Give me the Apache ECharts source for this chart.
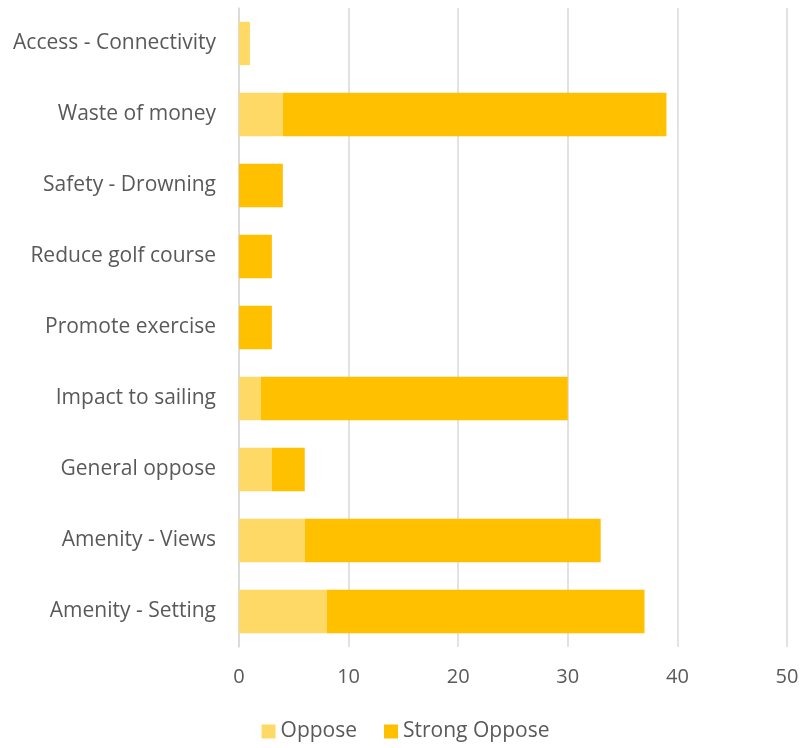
<!DOCTYPE html>
<html><head><meta charset="utf-8">
<script src="https://cdn.jsdelivr.net/npm/echarts@6/dist/echarts.min.js"></script>
<style>html,body{margin:0;padding:0;background:#fff}#c{width:811px;height:748px}</style>
</head><body><div id="c"></div>
<script>
const categories = ["Amenity - Setting","Amenity - Views","General oppose","Impact to sailing","Promote exercise","Reduce golf course","Safety - Drowning","Waste of money","Access - Connectivity"];
const oppose = [8, 6, 3, 2, 0, 0, 0, 4, 1];
const strongOppose = [29, 27, 3, 28, 3, 3, 4, 35, 0];
const xTicks = [0, 10, 20, 30, 40, 50];

const font = "'Open Sans', 'Liberation Sans', sans-serif";
const chart = echarts.init(document.getElementById('c'));
chart.setOption({
  animation: false,
  textStyle: { fontFamily: font },
  grid: { left: 239, right: 24, top: 8, bottom: 101 },
  legend: {
    bottom: 1, left: 'center', itemWidth: 14, itemHeight: 14, itemGap: 27,
    icon: 'rect',
    textStyle: { fontSize: 21, color: '#595959', fontFamily: font },
    data: ['Oppose', 'Strong Oppose']
  },
  xAxis: {
    type: 'value', min: xTicks[0], max: xTicks[xTicks.length - 1], interval: 10,
    axisLine: { show: false }, axisTick: { show: false },
    splitLine: { lineStyle: { color: '#d9d9d9', width: 1.5 } },
    axisLabel: { fontSize: 20, color: '#595959', margin: 20, fontFamily: font }
  },
  yAxis: {
    type: 'category', data: categories,
    axisLine: { show: true, lineStyle: { color: '#d9d9d9', width: 1.5 } },
    axisTick: { show: false },
    axisLabel: { fontSize: 21, color: '#595959', margin: 23, fontFamily: font }
  },
  series: [
    { name: 'Oppose', type: 'bar', stack: 't', data: oppose, barCategoryGap: '39%', itemStyle: { color: '#FFD966' } },
    { name: 'Strong Oppose', type: 'bar', stack: 't', data: strongOppose, barCategoryGap: '39%', itemStyle: { color: '#FFC000' } }
  ]
});
</script></body></html>
